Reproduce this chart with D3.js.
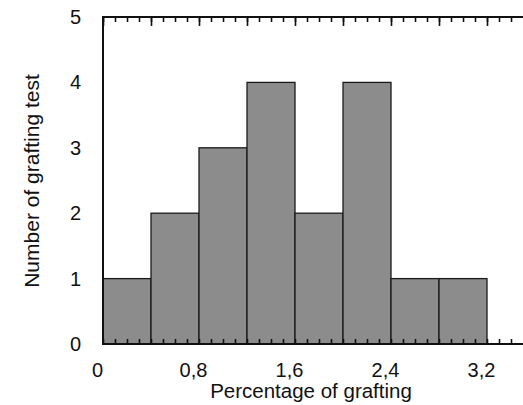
<!DOCTYPE html>
<html>
<head>
<meta charset="utf-8">
<script src="https://cdn.jsdelivr.net/npm/d3@7"></script>
<style>
  body { margin: 0; background: #fff; }
  svg { display: block; }
  text { font-family: "Liberation Sans", Arial, sans-serif; fill: #111; }
</style>
</head>
<body>
<div id="chart"></div>
<script>
// histogram bins (percentage of grafting) and counts
const binStarts = [0, 0.4, 0.8, 1.2, 1.6, 2.0, 2.4, 2.8];
const binWidth = 0.4;
const counts = [1, 2, 3, 4, 2, 4, 1, 1];
const xTickLabels = [0, 0.8, 1.6, 2.4, 3.2];
const yTickLabels = [0, 1, 2, 3, 4, 5];

const width = 523, height = 405;
const margin = { top: 17, right: 0, bottom: 61, left: 103 };

const svg = d3.select("#chart").append("svg")
  .attr("width", width)
  .attr("height", height);

const x = d3.scaleLinear().domain([0, 3.5]).range([margin.left, width - margin.right]);
const y = d3.scaleLinear().domain([0, 5]).range([height - margin.bottom, margin.top]);

const minorTicks = d3.range(0, 35).map(i => i / 10);
const majorTicks = d3.range(0, 9).map(i => i * 0.4);

// bars
svg.append("g")
  .selectAll("rect")
  .data(binStarts)
  .join("rect")
  .attr("x", d => x(d))
  .attr("y", (d, i) => y(counts[i]))
  .attr("width", d => x(d + binWidth) - x(d))
  .attr("height", (d, i) => y(0) - y(counts[i]))
  .attr("fill", "#8c8c8c")
  .attr("stroke", "#1a1a1a")
  .attr("stroke-width", 1.3);

// frame
svg.append("path")
  .attr("d", `M${width},${y(5)}H${x(0)}V${y(0)}H${width}`)
  .attr("fill", "none")
  .attr("stroke", "#111")
  .attr("stroke-width", 2);

// top ticks pointing in
const topMinor = svg.append("g")
  .attr("transform", `translate(0,${y(5)})`)
  .call(d3.axisTop(x).tickValues(minorTicks).tickSize(-5).tickFormat(""));
const topMajor = svg.append("g")
  .attr("transform", `translate(0,${y(5)})`)
  .call(d3.axisTop(x).tickValues(majorTicks).tickSize(-9).tickFormat(""));

// bottom ticks pointing in
const bottomMinor = svg.append("g")
  .attr("transform", `translate(0,${y(0)})`)
  .call(d3.axisBottom(x).tickValues(minorTicks).tickSize(-5).tickFormat(""));

[topMinor, topMajor, bottomMinor].forEach(g => {
  g.select(".domain").remove();
  g.selectAll("line").attr("stroke", "#111").attr("stroke-width", 1.6);
});

// x labels
const xLab = svg.append("g")
  .attr("transform", `translate(0,${y(0)})`)
  .call(d3.axisBottom(x).tickValues(xTickLabels).tickSize(0).tickPadding(19)
    .tickFormat(d => d === 0 ? "0" : d.toFixed(1).replace(".", ",")));
xLab.select(".domain").remove();
xLab.selectAll("text")
  .attr("dx", -6)
  .style("font-size", "20px")
  .style("font-family", "'Liberation Sans', Arial, sans-serif")
  .attr("fill", "#111");

// y labels
const yLab = svg.append("g")
  .attr("transform", `translate(${x(0)},0)`)
  .call(d3.axisLeft(y).tickValues(yTickLabels).tickSize(0).tickPadding(22)
    .tickFormat(d3.format("d")));
yLab.select(".domain").remove();
yLab.selectAll("text")
  .style("font-size", "20px")
  .style("font-family", "'Liberation Sans', Arial, sans-serif")
  .attr("fill", "#111");

// axis titles
svg.append("text")
  .attr("x", 311)
  .attr("y", 398)
  .attr("text-anchor", "middle")
  .style("font-size", "20.5px")
  .text("Percentage of grafting");

svg.append("text")
  .attr("transform", "translate(39,181) rotate(-90)")
  .attr("text-anchor", "middle")
  .style("font-size", "21px")
  .text("Number of grafting test");
</script>
</body>
</html>
